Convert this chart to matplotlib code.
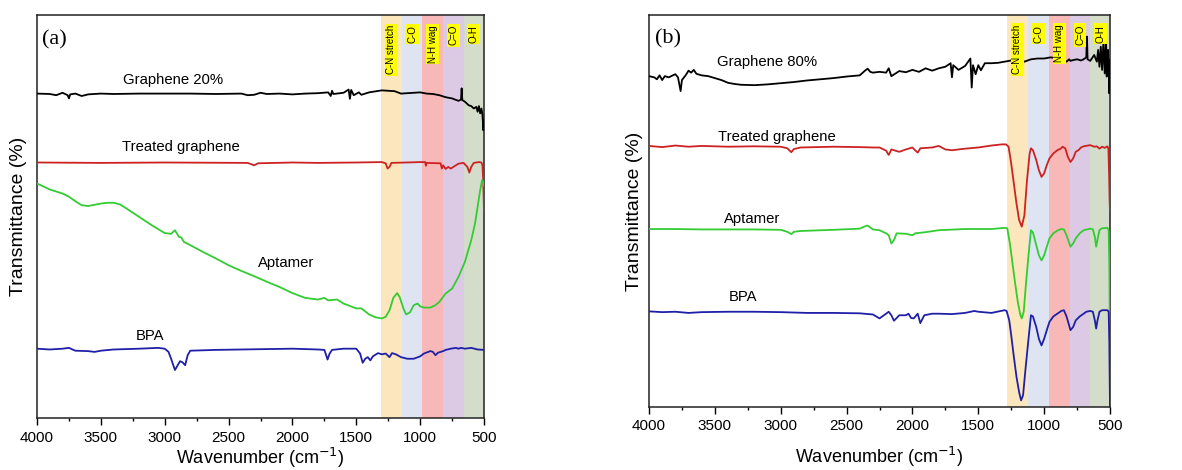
import matplotlib
matplotlib.use("Agg")
import matplotlib.pyplot as plt
from matplotlib.ticker import MultipleLocator
import matplotlib.transforms as mtransforms

plt.rcParams['font.family'] = ['Liberation Sans', 'DejaVu Sans']

# ---------------- Panel (a) data ----------------
a_black_wn = [4000, 3900, 3850, 3800, 3760, 3750, 3740, 3700, 3650, 3600, 3500, 3400, 3200, 3000, 2800,
              2600, 2400, 2350, 2300, 2250, 2200, 2100, 2000, 1900, 1800, 1720, 1700, 1690, 1680, 1600,
              1560, 1550, 1540, 1520, 1480, 1460, 1400, 1300, 1200, 1150, 1100, 1000, 950, 900, 850,
              800, 750, 700, 680, 675, 670, 650, 620, 600, 580, 560, 550, 540, 530, 520, 512, 505, 500]
a_black_y = [80.5, 80.4, 80.1, 80.7, 80.1, 79.3, 80.3, 80.5, 79.9, 80.3, 80.5, 80.4, 80.5, 80.5, 80.5,
             80.4, 80.5, 80.1, 80.2, 80.7, 80.4, 80.5, 80.3, 80.5, 80.6, 80.8, 79.9, 81.2, 80.4, 80.7,
             81.5, 79.2, 81.4, 80.1, 80.8, 80.2, 80.8, 81.3, 81.1, 80.5, 80.6, 80.8, 80.5, 80.4, 80.1,
             79.6, 79.3, 78.7, 79.0, 81.8, 78.9, 78.5, 77.6, 77.4, 76.8, 77.2, 76.0, 77.4, 75.6, 76.8,
             75.2, 71.4, 73.9]

a_red_wn = [4000, 3500, 3000, 2350, 2300, 2270, 2000, 1800, 1500, 1300, 1270, 1255, 1240, 1225, 1000,
            960, 955, 950, 840, 830, 820, 800, 780, 760, 740, 700, 660, 630, 615, 600, 580, 540, 520,
            512, 506, 502, 500]
a_red_y = [63.4, 63.3, 63.4, 63.3, 62.7, 63.2, 63.4, 63.3, 63.4, 63.5, 63.2, 61.9, 62.3, 63.3, 63.5,
           63.5, 62.6, 63.3, 63.2, 61.9, 62.7, 61.8, 62.3, 61.9, 62.3, 63.1, 63.3, 62.3, 60.9, 62.3,
           63.3, 63.5, 63.4, 62.7, 59.0, 54.1, 50.7]

a_green_wn = [4000, 3900, 3800, 3750, 3700, 3650, 3600, 3550, 3500, 3450, 3400, 3350, 3300, 3200, 3100,
              3000, 2950, 2920, 2890, 2870, 2850, 2800, 2700, 2600, 2500, 2400, 2300, 2200, 2100, 2000,
              1900, 1800, 1750, 1720, 1650, 1600, 1500, 1460, 1400, 1350, 1300, 1270, 1240, 1210, 1180,
              1160, 1130, 1110, 1080, 1050, 1020, 1000, 970, 920, 880, 850, 800, 750, 700, 650, 600,
              570, 550, 530, 515, 505, 500]
a_green_y = [58.2, 56.7, 55.7, 54.9, 53.8, 52.8, 52.6, 52.9, 53.2, 53.4, 53.4, 53.0, 52.0, 49.9, 47.8,
             45.9, 45.7, 46.6, 45.0, 44.8, 43.7, 42.9, 41.2, 39.6, 37.9, 36.5, 35.2, 33.8, 32.5, 31.0,
             29.8, 29.4, 29.8, 29.2, 29.4, 28.4, 27.2, 27.2, 25.7, 25.0, 24.7, 25.1, 26.7, 29.8, 31.0,
             30.0, 27.1, 25.7, 26.2, 28.0, 28.4, 27.7, 27.4, 27.4, 28.0, 28.8, 30.9, 32.1, 35.0, 38.7,
             44.1, 48.3, 52.4, 56.5, 59.0, 58.6, 57.7]

a_blue_wn = [4000, 3900, 3800, 3750, 3700, 3600, 3550, 3500, 3400, 3200, 3050, 3000, 2970, 2950, 2920,
             2900, 2880, 2860, 2840, 2820, 2800, 2600, 2400, 2200, 2000, 1800, 1750, 1735, 1725, 1710,
             1690, 1600, 1500, 1470, 1450, 1430, 1410, 1390, 1370, 1330, 1300, 1270, 1240, 1220, 1190,
             1150, 1100, 1050, 1000, 970, 920, 900, 880, 860, 820, 800, 760, 720, 700, 680, 650, 600,
             550, 500]
a_blue_y = [17.2, 17.0, 17.2, 17.4, 16.7, 16.6, 16.4, 16.7, 17.0, 17.2, 17.4, 17.2, 16.4, 14.7, 11.9,
            13.0, 14.1, 13.8, 13.1, 15.6, 16.7, 16.9, 17.0, 17.1, 17.2, 17.0, 16.9, 15.5, 14.5, 15.9,
            16.9, 17.2, 17.2, 16.0, 13.7, 14.7, 15.1, 14.3, 15.3, 16.1, 15.8, 16.0, 15.1, 16.1, 15.8,
            15.1, 14.7, 14.7, 15.3, 16.0, 16.6, 16.4, 15.6, 16.2, 16.6, 16.9, 17.2, 17.4, 17.2, 17.4,
            17.2, 17.4, 17.0, 16.9]

# ---------------- Panel (b) data ----------------
b_black_wn = [4000, 3960, 3940, 3920, 3900, 3880, 3850, 3800, 3780, 3760, 3750, 3720, 3700, 3680, 3660,
              3640, 3600, 3550, 3500, 3450, 3400, 3350, 3300, 3200, 3100, 3000, 2900, 2800, 2700, 2600,
              2500, 2400, 2360, 2340, 2320, 2300, 2250, 2200, 2180, 2160, 2100, 2050, 2000, 1950, 1900,
              1850, 1800, 1750, 1710, 1700, 1690, 1650, 1600, 1560, 1550, 1540, 1520, 1500, 1480, 1450,
              1400, 1350, 1300, 1250, 1200, 1150, 1100, 1050, 1000, 950, 900, 850, 830, 810, 800, 780,
              750, 720, 700, 680, 675, 670, 650, 620, 600, 590, 580, 570, 560, 550, 540, 530, 525, 515,
              510, 505, 502, 500]
b_black_y = [84.4, 84.1, 83.6, 84.6, 83.4, 84.4, 84.1, 84.9, 84.1, 80.6, 83.4, 84.7, 85.8, 85.3, 86.0,
             85.0, 84.6, 84.4, 83.9, 83.4, 82.7, 82.4, 82.2, 82.1, 82.3, 82.6, 82.9, 83.3, 83.6, 83.9,
             84.3, 84.6, 85.8, 86.3, 85.5, 85.3, 85.5, 85.3, 86.4, 84.4, 85.7, 85.4, 86.0, 85.5, 86.4,
             85.8, 86.4, 86.8, 87.7, 84.1, 87.2, 86.0, 87.0, 88.9, 81.5, 87.2, 84.9, 87.2, 85.9, 87.7,
             87.7, 87.8, 88.1, 88.4, 88.5, 88.1, 88.7, 88.9, 88.9, 89.2, 88.9, 88.7, 88.1, 88.7, 88.3,
             88.5, 88.7, 88.4, 88.7, 89.2, 94.5, 88.7, 88.3, 89.8, 88.1, 91.1, 86.8, 91.9, 86.0, 93.2,
             85.1, 94.1, 84.3, 91.1, 86.8, 80.0, 88.5, 84.3]

b_red_wn = [4000, 3900, 3800, 3700, 3600, 3400, 3200, 3000, 2950, 2920, 2900, 2850, 2600, 2400, 2300,
            2250, 2200, 2180, 2160, 2140, 2100, 2050, 2000, 1980, 1960, 1940, 1850, 1800, 1750, 1700,
            1600, 1500, 1400, 1320, 1290, 1270, 1250, 1230, 1210, 1190, 1170, 1150, 1130, 1110, 1100,
            1085, 1060, 1040, 1020, 1000, 980, 960, 930, 900, 870, 860, 840, 820, 800, 780, 760, 740,
            720, 700, 650, 620, 600, 580, 560, 540, 520, 512, 507, 503, 500]
b_red_y = [66.6, 66.3, 66.7, 66.4, 66.6, 66.4, 66.5, 66.4, 66.0, 65.0, 65.8, 66.2, 66.4, 66.3, 66.2,
           66.2, 65.4, 64.3, 65.7, 65.5, 65.1, 65.7, 66.2, 65.5, 64.9, 66.0, 66.2, 66.6, 65.7, 65.5,
           65.9, 66.2, 66.7, 67.0, 67.0, 66.4, 62.1, 57.0, 51.9, 47.7, 46.0, 48.9, 57.9, 64.7, 66.0,
           65.5, 63.0, 60.4, 58.7, 59.6, 61.7, 63.4, 64.7, 65.5, 66.0, 66.4, 66.0, 63.8, 62.5, 63.4,
           65.1, 65.5, 66.2, 66.5, 66.8, 66.4, 66.5, 65.9, 66.4, 66.1, 66.5, 65.9, 59.6, 52.8, 49.8]

b_green_wn = [4000, 3800, 3600, 3400, 3200, 3000, 2950, 2920, 2900, 2850, 2600, 2400, 2360, 2340, 2300,
              2250, 2200, 2180, 2160, 2140, 2120, 2050, 2000, 1980, 1900, 1800, 1600, 1400, 1300, 1280,
              1260, 1240, 1220, 1200, 1180, 1170, 1155, 1140, 1120, 1100, 1085, 1060, 1040, 1020, 1000,
              980, 960, 930, 900, 870, 850, 830, 800, 780, 760, 730, 700, 650, 630, 615, 605, 595, 580,
              560, 520, 510, 505, 502, 500]
b_green_y = [45.4, 45.4, 45.3, 45.3, 45.3, 45.2, 44.7, 44.1, 44.7, 44.9, 45.2, 45.5, 46.1, 46.3, 45.3,
             45.1, 44.3, 43.8, 41.7, 42.6, 44.3, 44.2, 43.8, 44.3, 44.6, 45.1, 45.4, 45.4, 45.7, 45.6,
             41.7, 36.6, 31.5, 26.8, 23.4, 22.6, 24.3, 30.6, 38.3, 45.1, 44.5, 41.3, 38.7, 37.4, 38.7,
             40.9, 43.0, 44.3, 45.0, 45.4, 45.3, 43.8, 40.9, 41.7, 43.0, 44.3, 45.1, 45.5, 45.3, 43.4,
             40.9, 42.6, 45.1, 45.6, 45.7, 45.1, 35.7, 23.0, 14.5]

b_blue_wn = [4000, 3900, 3800, 3700, 3600, 3400, 3200, 3000, 2800, 2600, 2400, 2300, 2250, 2200, 2180,
             2160, 2140, 2100, 2050, 2030, 2010, 1990, 1960, 1940, 1910, 1850, 1800, 1700, 1600, 1530,
             1500, 1400, 1300, 1285, 1265, 1250, 1230, 1210, 1190, 1175, 1160, 1140, 1120, 1100, 1085,
             1060, 1040, 1020, 1000, 980, 960, 930, 900, 870, 850, 830, 800, 780, 760, 730, 700, 680,
             650, 630, 615, 605, 595, 580, 560, 520, 510, 505, 502, 500]
b_blue_y = [24.4, 24.2, 24.3, 24.0, 24.2, 24.3, 24.3, 24.2, 24.0, 24.0, 23.9, 23.6, 22.6, 23.8, 24.3,
            23.4, 22.0, 23.4, 23.4, 23.8, 22.7, 22.6, 23.8, 21.4, 23.4, 23.8, 23.8, 23.7, 24.0, 24.5,
            24.3, 24.0, 24.7, 24.5, 22.1, 18.3, 12.8, 7.7, 3.8, 1.7, 3.0, 10.2, 17.0, 23.4, 23.1,
            20.4, 17.4, 15.7, 17.4, 19.6, 21.7, 23.1, 23.8, 24.5, 24.7, 23.1, 19.6, 20.4, 22.1, 23.1,
            23.8, 24.3, 24.5, 24.3, 22.1, 20.0, 22.1, 24.3, 24.7, 24.7, 24.3, 16.2, 6.0, 0.0]

# ---------------- Band annotations ----------------
band_labels = ["C-N stretch", "C-O", "N-H wag", "C=O", "O-H"]
band_colors = ["#fbe6bd", "#dfe4f2", "#f9b8b8", "#dccae5", "#d3ddc9"]
a_band_edges = [1310, 1140, 985, 820, 660, 500]
b_band_edges = [1285, 1125, 965, 805, 650, 500]

series_names = ["Graphene 20%", "Treated graphene", "Aptamer", "BPA"]
series_names_b = ["Graphene 80%", "Treated graphene", "Aptamer", "BPA"]
line_colors = ["#000000", "#cc2222", "#33cc33", "#1f1fa8"]

a_label_pos = [(3325, 83.9), (3335, 67.3), (2270, 38.5), (3230, 20.4)]
b_label_pos = [(3486, 88.1), (3474, 68.8), (3431, 47.9), (3398, 28.1)]

fig = plt.figure(figsize=(11.82, 4.70), dpi=100)
ax_a = fig.add_axes([37 / 1182, 52 / 470, 447 / 1182, 403 / 470])
ax_b = fig.add_axes([649 / 1182, 63 / 470, 461 / 1182, 392 / 470])


def style(ax, edges, data, names, label_pos, panel, ylabelpad, xlabelpad):
    for i in range(len(band_labels)):
        ax.axvspan(edges[i], edges[i + 1], color=band_colors[i], zorder=0, lw=0)
        trans = mtransforms.blended_transform_factory(ax.transData, ax.transAxes)
        ax.text((edges[i] + edges[i + 1]) / 2, 0.975, band_labels[i], rotation=90,
                ha='center', va='top', fontsize=7, transform=trans, zorder=5,
                bbox=dict(boxstyle='square,pad=0.15', fc='#ffff00', ec='none'))
    for (wn, y), c in zip(data, line_colors):
        ax.plot(wn, y, color=c, lw=1.3, zorder=3)
    for name, (x, y) in zip(names, label_pos):
        ax.text(x, y, name, fontsize=10.7, ha='left', va='center', zorder=6)
    ax.text(0.012, 0.938, panel, transform=ax.transAxes, fontsize=16,
            family=['Liberation Serif'], ha='left', va='center')
    ax.set_xlim(4000, 500)
    ax.set_ylim(0, 100)
    ax.xaxis.set_major_locator(MultipleLocator(500))
    ax.xaxis.set_minor_locator(MultipleLocator(250))
    ax.tick_params(axis='x', which='major', direction='out', length=5, width=1, labelsize=11, pad=4)
    ax.tick_params(axis='x', which='minor', direction='out', length=2.5, width=1)
    ax.set_yticks([])
    for s in ax.spines.values():
        s.set_color('#222222')
        s.set_linewidth(1.1)
    ax.set_xlabel('Wavenumber (cm$^{-1}$)', fontsize=13, labelpad=xlabelpad)
    ax.set_ylabel('Transmittance (%)', fontsize=14, labelpad=ylabelpad)


style(ax_a, a_band_edges,
      [(a_black_wn, a_black_y), (a_red_wn, a_red_y), (a_green_wn, a_green_y), (a_blue_wn, a_blue_y)],
      series_names, a_label_pos, '(a)', 7, 1)
style(ax_b, b_band_edges,
      [(b_black_wn, b_black_y), (b_red_wn, b_red_y), (b_green_wn, b_green_y), (b_blue_wn, b_blue_y)],
      series_names_b, b_label_pos, '(b)', 4, 8)

fig.savefig('out.png', dpi=100)
